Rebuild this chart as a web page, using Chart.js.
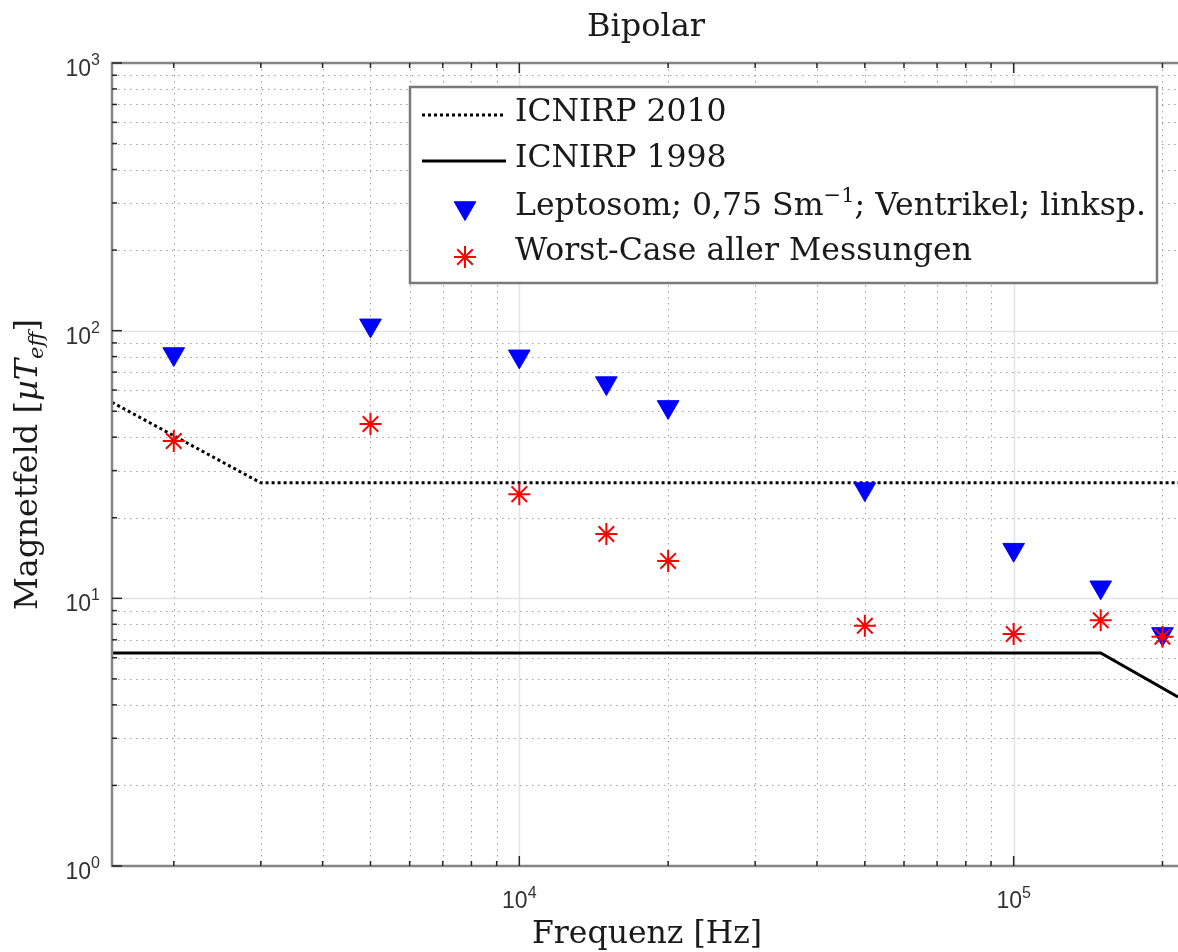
<!DOCTYPE html>
<html>
<head>
<meta charset="utf-8">
<script src="https://cdn.jsdelivr.net/npm/chart.js@4.4.1/dist/chart.umd.min.js"></script>
<style>
  body { margin: 0; background: #fff; }
  canvas { display: block; }
</style>
</head>
<body>
<canvas id="myChart" width="1178" height="952"></canvas>
<script>
// measured frequencies (Hz)
const freqs = [2000, 5000, 10000, 15000, 20000, 50000, 100000, 150000, 200000];
// Leptosom; 0,75 S/m; Ventrikel; linksp. (uT eff)
const leptosom = [81.8, 104.7, 80.2, 63.7, 51.9, 25.6, 15.2, 11.0, 7.36];
// Worst-Case aller Messungen (uT eff)
const worstCase = [38.7, 44.8, 24.5, 17.4, 13.8, 7.9, 7.36, 8.28, 7.19];
// reference levels
const icnirp2010Freq = [1500, 3000, 215000];
const icnirp2010 = [54, 27, 27];
const icnirp1998Freq = [1500, 150000, 215000];
const icnirp1998 = [6.25, 6.25, 4.28];

const xMin = 1500, xMax = 215000;
const yMin = 1, yMax = 1000;

const serif = '"DejaVu Serif", serif';
const sans = '"Liberation Sans", Arial, sans-serif';

const toPoints = (xs, ys) => xs.map((x, i) => ({ x: x, y: ys[i] }));

// draws a list of text pieces one after the other
function drawRich(ctx, parts, x, y, align) {
  let w = 0;
  parts.forEach((p) => {
    ctx.font = p.font;
    w += ctx.measureText(p.text).width;
  });
  let cx = align === "right" ? x - w : align === "center" ? x - w / 2 : x;
  ctx.textAlign = "left";
  ctx.textBaseline = "alphabetic";
  parts.forEach((p) => {
    ctx.font = p.font;
    ctx.fillText(p.text, cx, y + (p.dy || 0));
    cx += ctx.measureText(p.text).width;
  });
}

function logValues(min, max) {
  const out = [];
  for (let d = Math.floor(Math.log10(min)); d <= Math.ceil(Math.log10(max)); d++) {
    for (let m = 1; m <= 9; m++) {
      const v = m * Math.pow(10, d);
      if (v >= min * 0.9999 && v <= max * 1.0001) out.push(v);
    }
  }
  return out;
}
const isDecade = (v) => Math.abs(Math.log10(v) - Math.round(Math.log10(v))) < 1e-9;

const gridPlugin = {
  id: "matlabGrid",
  beforeDatasetsDraw(chart) {
    const { ctx, chartArea: a, scales } = chart;
    const x = scales.x, y = scales.y;
    ctx.save();
    const line = (x1, y1, x2, y2, major) => {
      ctx.beginPath();
      if (major) {
        ctx.strokeStyle = "#e3e3e3";
        ctx.lineWidth = 1.5;
        ctx.setLineDash([]);
      } else {
        ctx.strokeStyle = "#a0a0a0";
        ctx.lineWidth = 1;
        ctx.setLineDash([1.5, 4.5]);
      }
      ctx.moveTo(x1, y1);
      ctx.lineTo(x2, y2);
      ctx.stroke();
    };
    logValues(x.min, x.max).forEach((v) => {
      const px = Math.round(x.getPixelForValue(v)) + 0.5;
      if (px <= a.left + 2) return;
      line(px, a.top, px, a.bottom, isDecade(v));
    });
    logValues(y.min, y.max).forEach((v) => {
      const py = Math.round(y.getPixelForValue(v)) + 0.5;
      if (py <= a.top + 2 || py >= a.bottom - 2) return;
      line(a.left, py, a.right, py, isDecade(v));
    });
    ctx.restore();
  },
  afterDraw(chart) {
    const { ctx, chartArea: a, scales } = chart;
    const x = scales.x, y = scales.y;
    ctx.save();

    // axes box
    ctx.strokeStyle = "#858585";
    ctx.lineWidth = 2.5;
    ctx.beginPath();
    ctx.moveTo(a.right + 2, a.top);
    ctx.lineTo(a.left, a.top);
    ctx.lineTo(a.left, a.bottom);
    ctx.lineTo(a.right + 2, a.bottom);
    ctx.stroke();

    // inward tick marks
    ctx.strokeStyle = "#262626";
    ctx.lineWidth = 1.5;
    logValues(x.min, x.max).forEach((v) => {
      const px = x.getPixelForValue(v);
      if (px <= a.left + 2) return;
      const len = isDecade(v) ? 10 : 5;
      ctx.beginPath();
      ctx.moveTo(px, a.bottom);
      ctx.lineTo(px, a.bottom - len);
      ctx.moveTo(px, a.top);
      ctx.lineTo(px, a.top + len);
      ctx.stroke();
    });
    logValues(y.min, y.max).forEach((v) => {
      const py = y.getPixelForValue(v);
      const len = isDecade(v) ? 10 : 5;
      ctx.beginPath();
      ctx.moveTo(a.left, py);
      ctx.lineTo(a.left + len, py);
      ctx.stroke();
    });

    // tick labels
    ctx.fillStyle = "#333333";
    const base = "23px " + sans, sup = "16px " + sans;
    logValues(y.min, y.max).filter(isDecade).forEach((v) => {
      const py = y.getPixelForValue(v);
      const e = String(Math.round(Math.log10(v)));
      drawRich(ctx, [{ text: "10", font: base, dy: 13 }, { text: e, font: sup, dy: 2 }], 100, py, "right");
    });
    logValues(x.min, x.max).filter(isDecade).forEach((v) => {
      const px = x.getPixelForValue(v);
      const e = String(Math.round(Math.log10(v)));
      drawRich(ctx, [{ text: "10", font: base, dy: 0 }, { text: e, font: sup, dy: -10 }], px, a.bottom + 42, "center");
    });

    // titles
    ctx.fillStyle = "#1a1a1a";
    const tf = "32px " + serif;
    const lf = "31.5px " + serif;
    drawRich(ctx, [{ text: "Bipolar", font: tf }], 646, 36, "center");
    drawRich(ctx, [{ text: "Frequenz [Hz]", font: "31.5px " + serif }], 647, 943, "center");
    ctx.save();
    ctx.translate(37, (a.top + a.bottom) / 2);
    ctx.rotate(-Math.PI / 2);
    drawRich(ctx, [
      { text: "Magnetfeld [", font: tf },
      { text: "\u00b5T", font: "italic " + tf },
      { text: "eff", font: "italic 21px " + serif, dy: 6 },
      { text: "]", font: tf }
    ], 0, 0, "center");
    ctx.restore();

    // legend
    const lx = 410, ly = 87, lw = 747, lh = 196;
    ctx.fillStyle = "#fff";
    ctx.fillRect(lx, ly, lw, lh);
    ctx.strokeStyle = "#7a7a7a";
    ctx.lineWidth = 2.5;
    ctx.strokeRect(lx, ly, lw, lh);

    const ds = chart.data.datasets;
    const tx = 515;
    ctx.fillStyle = "#1a1a1a";
    // line entries
    [[0, 115, 121], [1, 161, 167]].forEach(([i, sy, by]) => {
      ctx.strokeStyle = ds[i].borderColor;
      ctx.lineWidth = ds[i].borderWidth;
      ctx.setLineDash(ds[i].borderDash || []);
      ctx.beginPath();
      ctx.moveTo(422, sy);
      ctx.lineTo(506, sy);
      ctx.stroke();
      ctx.setLineDash([]);
      drawRich(ctx, [{ text: ds[i].label, font: lf }], tx, by, "left");
    });
    // marker entries
    [[2, 208, 180], [3, 257, 0]].forEach(([i, my, rot]) => {
      ctx.fillStyle = ds[i].backgroundColor;
      ctx.strokeStyle = ds[i].borderColor;
      ctx.lineWidth = ds[i].borderWidth;
      Chart.helpers.drawPoint(ctx, {
        pointStyle: ds[i].pointStyle, radius: ds[i].pointRadius, rotation: rot,
        borderWidth: ds[i].borderWidth
      }, 465, my);
    });
    ctx.fillStyle = "#1a1a1a";
    drawRich(ctx, [
      { text: "Leptosom; 0,75 Sm", font: lf },
      { text: "\u22121", font: "21px " + serif, dy: -13 },
      { text: "; Ventrikel; linksp.", font: lf }
    ], tx, 215, "left");
    drawRich(ctx, [{ text: ds[3].label, font: lf }], tx, 260, "left");

    ctx.restore();
  }
};

const myChart = new Chart("myChart", {
  type: "scatter",
  data: {
    datasets: [
      {
        label: "ICNIRP 2010",
        data: toPoints(icnirp2010Freq, icnirp2010),
        showLine: true,
        borderColor: "#000",
        borderWidth: 3,
        borderDash: [3, 3],
        pointRadius: 0,
        order: 4
      },
      {
        label: "ICNIRP 1998",
        data: toPoints(icnirp1998Freq, icnirp1998),
        showLine: true,
        borderColor: "#000",
        borderWidth: 3,
        pointRadius: 0,
        order: 3
      },
      {
        label: "Leptosom; 0,75 Sm-1; Ventrikel; linksp.",
        data: toPoints(freqs, leptosom),
        pointStyle: "triangle",
        rotation: 180,
        pointRadius: 12.5,
        backgroundColor: "#0000ff",
        borderColor: "#0000ff",
        borderWidth: 1,
        order: 2
      },
      {
        label: "Worst-Case aller Messungen",
        data: toPoints(freqs, worstCase),
        pointStyle: "star",
        pointRadius: 11,
        backgroundColor: "#ff0000",
        borderColor: "#ff0000",
        borderWidth: 2,
        order: 1
      }
    ]
  },
  options: {
    responsive: false,
    animation: false,
    layout: { autoPadding: false, padding: { left: 112, top: 63, right: 0, bottom: 86 } },
    plugins: {
      legend: { display: false },
      title: { display: false },
      tooltip: { enabled: false }
    },
    scales: {
      x: { type: "logarithmic", min: xMin, max: xMax, display: false },
      y: { type: "logarithmic", min: yMin, max: yMax, display: false }
    }
  },
  plugins: [gridPlugin]
});
</script>
</body>
</html>
